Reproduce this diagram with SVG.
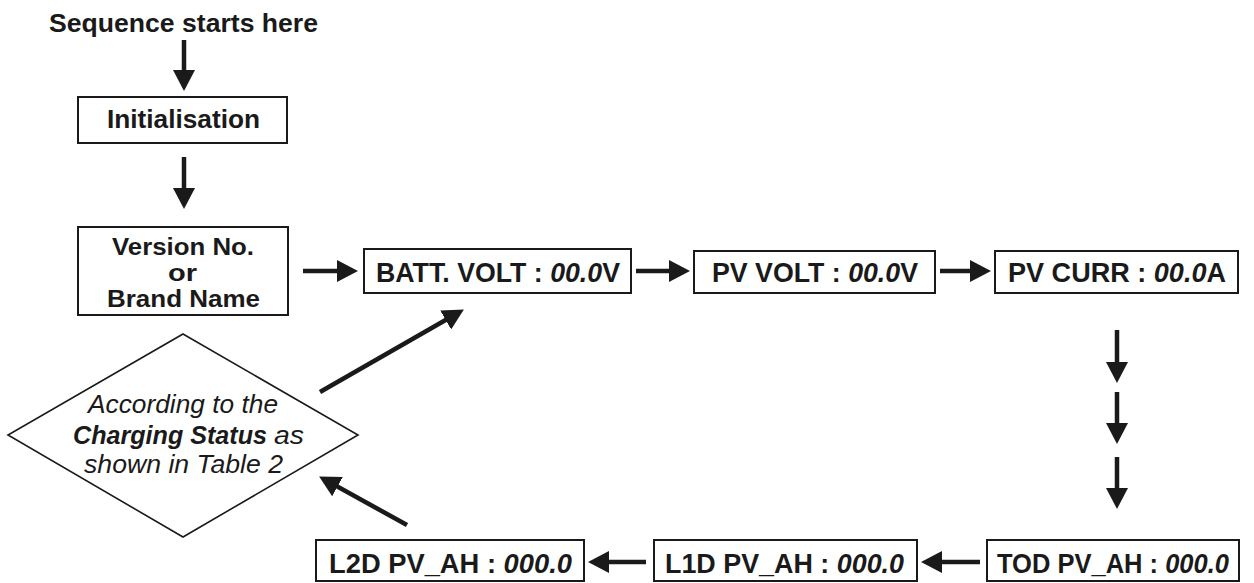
<svg xmlns="http://www.w3.org/2000/svg" width="1254" height="583" viewBox="0 0 1254 583">
  <style>
    .box { fill: #fff; stroke: #1a1a1a; stroke-width: 2; }
    .dia { fill: #fff; stroke: #1a1a1a; stroke-width: 1.6; }
    .t { font-family: "Liberation Sans", Arial, sans-serif; font-weight: bold; fill: #1a1a1a; }
    .f23 { font-size: 23px; }
    .f25 { font-size: 25px; }
    .f26 { font-size: 26px; }
    .f27 { font-size: 27px; }
    .it { font-style: italic; }
    .n { font-weight: normal; }
    .conn { stroke: #1a1a1a; stroke-width: 4.5; fill: none; marker-end: url(#ah); }
  </style>
  <defs>
    <marker id="ah" markerUnits="userSpaceOnUse" markerWidth="22" markerHeight="22" refX="8" refY="11" orient="auto" viewBox="0 0 22 22">
      <path d="M0,0 L21,11 L0,22 z" fill="#1a1a1a"/>
    </marker>
  </defs>
  <rect width="1254" height="583" fill="#fff"/>

  <g id="start">
    <text class="t f25" x="49" y="32" textLength="269" lengthAdjust="spacingAndGlyphs">Sequence starts here</text>
  </g>
  <g id="init">
    <rect class="box" x="78" y="97" width="209" height="46"/>
    <text class="t f26" x="107" y="128" textLength="153" lengthAdjust="spacingAndGlyphs">Initialisation</text>
  </g>
  <g id="version">
    <rect class="box" x="78" y="227" width="210" height="88"/>
    <text class="t f23" x="112" y="255" textLength="142" lengthAdjust="spacingAndGlyphs">Version No.</text>
    <text class="t f23" x="168" y="281" textLength="29" lengthAdjust="spacingAndGlyphs">or</text>
    <text class="t f23" x="107" y="307" textLength="153" lengthAdjust="spacingAndGlyphs">Brand Name</text>
  </g>
  <g id="batt">
    <rect class="box" x="364" y="249" width="267" height="44"/>
    <text class="t f27" x="376" y="282" textLength="244" lengthAdjust="spacingAndGlyphs">BATT. VOLT : <tspan class="it">00.0</tspan>V</text>
  </g>
  <g id="pvvolt">
    <rect class="box" x="694" y="251" width="241" height="42"/>
    <text class="t f27" x="712" y="282" textLength="206" lengthAdjust="spacingAndGlyphs">PV VOLT : <tspan class="it">00.0</tspan>V</text>
  </g>
  <g id="pvcurr">
    <rect class="box" x="995" y="251" width="243" height="42"/>
    <text class="t f27" x="1008" y="282" textLength="218" lengthAdjust="spacingAndGlyphs">PV CURR : <tspan class="it">00.0</tspan>A</text>
  </g>
  <g id="tod">
    <rect class="box" x="987" y="540" width="252" height="41"/>
    <text class="t f27" x="997" y="573" textLength="232" lengthAdjust="spacingAndGlyphs">TOD PV_AH : <tspan class="it">000.0</tspan></text>
  </g>
  <g id="l1d">
    <rect class="box" x="654" y="540" width="263" height="41"/>
    <text class="t f27" x="665" y="573" textLength="239" lengthAdjust="spacingAndGlyphs">L1D PV_AH : <tspan class="it">000.0</tspan></text>
  </g>
  <g id="l2d">
    <rect class="box" x="316" y="540" width="268" height="41"/>
    <text class="t f27" x="329" y="573" textLength="243" lengthAdjust="spacingAndGlyphs">L2D PV_AH : <tspan class="it">000.0</tspan></text>
  </g>
  <g id="status">
    <polygon class="dia" points="183,334 358,435 183,537 8,435"/>
    <text class="t f26 n it" x="88" y="413" textLength="190" lengthAdjust="spacingAndGlyphs">According to the</text>
    <text class="t f26 it" x="73" y="444" textLength="194" lengthAdjust="spacingAndGlyphs">Charging Status</text>
    <text class="t f26 n it" x="274" y="444" textLength="30" lengthAdjust="spacingAndGlyphs">as</text>
    <text class="t f26 n it" x="84" y="473" textLength="199" lengthAdjust="spacingAndGlyphs">shown in Table 2</text>
  </g>

  <g id="connectors">
    <line class="conn" x1="184" y1="40" x2="184" y2="78"/>
    <line class="conn" x1="184" y1="157" x2="184" y2="196"/>
    <line class="conn" x1="303" y1="271" x2="345" y2="271"/>
    <line class="conn" x1="636" y1="271" x2="677" y2="271"/>
    <line class="conn" x1="940" y1="271" x2="978" y2="271"/>
    <line class="conn" x1="1117" y1="330" x2="1117" y2="370"/>
    <line class="conn" x1="1117" y1="392" x2="1117" y2="431"/>
    <line class="conn" x1="1117" y1="457" x2="1117" y2="496"/>
    <line class="conn" x1="980" y1="562" x2="934" y2="562"/>
    <line class="conn" x1="646" y1="562" x2="601" y2="562"/>
    <line class="conn" x1="407" y1="525" x2="330.5" y2="482.8"/>
    <line class="conn" x1="320" y1="392" x2="452.6" y2="316"/>
  </g>
</svg>
